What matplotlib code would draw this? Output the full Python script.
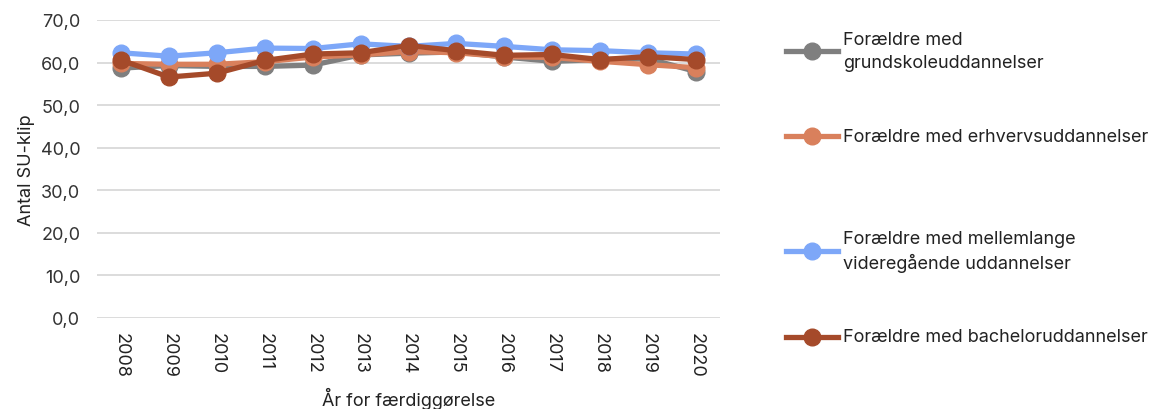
import matplotlib
matplotlib.use("Agg")
import matplotlib.pyplot as plt
from matplotlib.lines import Line2D

plt.rcParams['font.family'] = ['Inter', 'DejaVu Sans']

years = [2008, 2009, 2010, 2011, 2012, 2013, 2014, 2015, 2016, 2017, 2018, 2019, 2020]
grundskole = [58.7, 59.3, 59.1, 59.1, 59.4, 61.8, 62.2, 62.5, 61.3, 60.3, 60.7, 60.9, 57.9]
erhverv = [59.8, 59.6, 59.6, 60.2, 61.3, 61.8, 62.6, 62.3, 61.4, 61.2, 60.3, 59.5, 58.8]
mellemlange = [62.3, 61.5, 62.3, 63.4, 63.3, 64.4, 63.8, 64.5, 63.8, 63.0, 62.8, 62.3, 62.0]
bachelor = [60.6, 56.6, 57.5, 60.5, 62.0, 62.3, 64.0, 62.8, 61.7, 61.9, 60.7, 61.4, 60.7]

labels = ["Forældre med\ngrundskoleuddannelser",
          "Forældre med erhvervsuddannelser",
          "Forældre med mellemlange\nvideregående uddannelser",
          "Forældre med bacheloruddannelser"]
colors = ["#7f7f7f", "#d9805c", "#7da7f8", "#a54a2a"]
series = [grundskole, erhverv, mellemlange, bachelor]
yticks = [0, 10, 20, 30, 40, 50, 60, 70]

FS = 13
W, H = 1154, 410
fig = plt.figure(figsize=(W / 100, H / 100), dpi=100)
ax = fig.add_axes([97 / W, 1 - 319 / H, (720 - 97) / W, (319 - 21) / H])

x = list(range(len(years)))
for vals, c in zip(series, colors):
    ax.plot(x, vals, color=c, lw=3.8, marker='o', ms=12, solid_capstyle='round')

ax.set_xlim(-0.5, len(years) - 0.5)
ax.set_ylim(0, 70)
ax.set_yticks(yticks)
ax.set_yticklabels([f"{v:.1f}".replace('.', ',') for v in yticks], fontsize=FS, color='#333333')
ax.set_xticks(x)
ax.set_xticklabels([str(y) for y in years], rotation=270, fontsize=FS, color='#222222')
ax.yaxis.grid(True, color='#d9d9d9', lw=1.3)
ax.set_axisbelow(True)
for s in ax.spines.values():
    s.set_visible(False)
ax.tick_params(axis='both', length=0)
ax.tick_params(axis='y', pad=12)
ax.tick_params(axis='x', pad=10)
ax.set_ylabel("Antal SU-klip", fontsize=FS, color='#222222', labelpad=4)
ax.set_xlabel("År for færdiggørelse", fontsize=FS, color='#222222', labelpad=7)

# legend drawn on the right
leg_y = [52, 137, 252, 338]
for lab, c, yy in zip(labels, colors, leg_y):
    fy = 1 - yy / H
    fig.add_artist(Line2D([786 / W, 838 / W], [fy, fy], color=c, lw=3.8,
                          transform=fig.transFigure))
    fig.add_artist(Line2D([812 / W], [fy], color=c, marker='o', ms=12,
                          transform=fig.transFigure))
    fig.text(843 / W, fy, lab, fontsize=FS, color='#222222', va='center', ha='left',
             linespacing=1.45)

fig.savefig("out.png", dpi=100)
